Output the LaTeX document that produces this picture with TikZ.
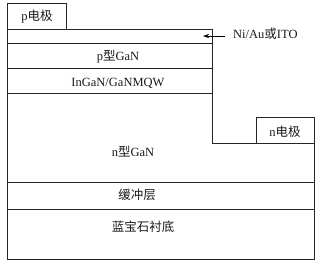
\documentclass[tikz,border=0pt]{standalone}
\usepackage{fontspec}
\setmainfont{Liberation Serif}
\newfontfamily\cjk{Noto Sans CJK SC}
\usetikzlibrary{arrows.meta}
\begin{document}
\begin{tikzpicture}[x=1pt,y=-1pt,
  wall/.style={draw=black!85,line width=0.8pt},
  lbl/.style={font=\fontsize{12.5}{14}\selectfont,inner sep=0pt,text=black!90}]
\useasboundingbox (0,0) rectangle (318,263);
% p electrode
\draw[wall] (7,29) -- (7,3) -- (66,3) -- (66,29);
% top layers
\draw[wall] (7,29) rectangle (212,93);
\draw[wall] (7,43) -- (212,43);
\draw[wall] (7,68) -- (212,68);
% main body
\draw[wall] (7,93) -- (7,259) -- (314,259) -- (314,143) -- (212,143) -- (212,93);
% n electrode
\draw[wall] (256,143) -- (256,117) -- (314,117) -- (314,143);
% buffer and substrate
\draw[wall] (7,182) -- (314,182);
\draw[wall] (7,209) -- (314,209);
% labels
\node[lbl] (pe) at (37,17) {p{\cjk 电极}};
\node[lbl] (pgan) at (118,57) {p{\cjk 型}GaN};
\node[lbl] (mqw) at (118,83) {InGaN/GaNMQW};
\node[lbl] (ngan) at (133,152) {n{\cjk 型}GaN};
\node[lbl] (buf) at (137,195) {{\cjk 缓冲层}};
\node[lbl] (sub) at (143,227) {{\cjk 蓝宝石衬底}};
\node[lbl] (ne) at (285,132) {n{\cjk 电极}};
\node[lbl,anchor=west] (ito) at (233,34) {Ni/Au{\cjk 或}ITO};
\coordinate (tip) at (203,36);
\draw[line width=0.6pt,-{Stealth[length=6pt,width=4pt]}] (ito.west |- tip) ++(-8,0) -- (tip);
\end{tikzpicture}
\end{document}
